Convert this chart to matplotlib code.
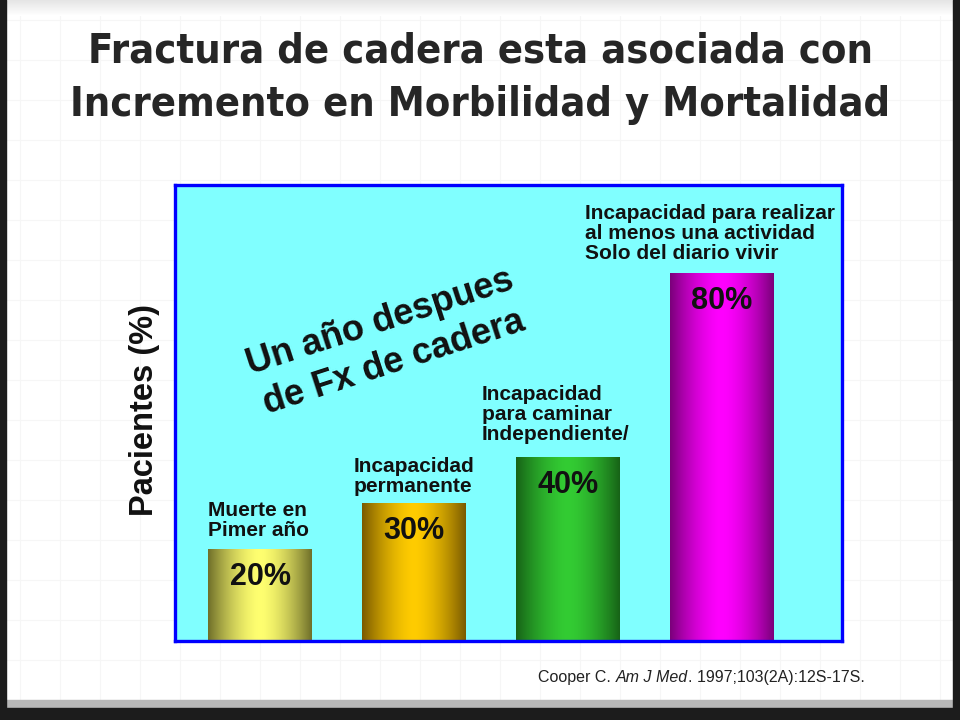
import numpy as np
import matplotlib
matplotlib.use("Agg")
import matplotlib.pyplot as plt
from matplotlib.colors import to_rgb

# --------------------------------------------------
# Data
# --------------------------------------------------
values = [20, 30, 40, 80]
value_labels = ["20%", "30%", "40%", "80%"]
bar_texts = [
    "Muerte en\nPimer año",
    "Incapacidad\npermanente",
    "Incapacidad\npara caminar\nIndependiente/",
    "Incapacidad para realizar\nal menos una actividad\nSolo del diario vivir",
]
edge_colors = ["#6f6f2a", "#7a5a00", "#176317", "#7a007a"]
center_colors = ["#ffff70", "#ffcc00", "#33cc33", "#ff00ff"]

title = "Fractura de cadera esta asociada con\nIncremento en Morbilidad y Mortalidad"
ylabel = "Pacientes (%)"
note = "Un año despues\nde Fx de cadera"

# label offsets in pixels from the bar's top-left corner
text_dx = [0, -8, -34, -85]
text_dy = [9, 7, 13, 10]

FONT = "Liberation Sans"

# --------------------------------------------------
# Figure / slide background
# --------------------------------------------------
fig = plt.figure(figsize=(9.6, 7.2), dpi=100)
fig.patch.set_facecolor("white")

bg = fig.add_axes([0, 0, 1, 1], zorder=-10)
bg.axis("off")
for gx in np.arange(20, 960, 40):
    bg.axvline(gx, color="#f6f6f6", lw=0.8, zorder=0)
for gy in np.arange(20, 720, 40):
    bg.axhline(gy, color="#f6f6f6", lw=0.8, zorder=0)
# top shading
top = np.linspace(0.9, 1.0, 16).reshape(-1, 1)
bg.imshow(np.dstack([top, top, top]), extent=(0, 960, 16, 0), aspect="auto", zorder=1)
# dark frame
bg.fill_between([0, 960], 700, 708, color="#b8b8b8", zorder=5)
bg.fill_between([0, 960], 708, 720, color="#1c1c1c", zorder=6)
bg.fill_between([0, 6], 0, 720, color="#1c1c1c", zorder=6)
bg.fill_between([953, 960], 0, 720, color="#1c1c1c", zorder=6)
bg.set_xlim(0, 960)
bg.set_ylim(720, 0)

fig.text(0.5, 1 - 78 / 720, title, ha="center", va="center", fontsize=29.8,
         fontweight="bold", family="DejaVu Sans", fontstretch="condensed",
         color="#262626", linespacing=1.45)

# --------------------------------------------------
# Chart
# --------------------------------------------------
ax = fig.add_axes([175 / 960, 79 / 720, 667 / 960, 456 / 720])
ax.set_facecolor("#80ffff")
for s in ax.spines.values():
    s.set_color("#0000ff")
    s.set_linewidth(2.4)
ax.set_xticks([])
ax.set_yticks([])

x = np.arange(len(values))
bars = ax.bar(x, values, width=0.675, color="none", edgecolor="none")

for i, b in enumerate(bars):
    e = np.array(to_rgb(edge_colors[i]))
    c = np.array(to_rgb(center_colors[i]))
    t = np.linspace(0, 1, 200)
    w = 1 - np.abs(2 * t - 1) ** 1.6
    grad = e[None, :] + (c - e)[None, :] * w[:, None]
    im = ax.imshow(grad[None, :, :],
                   extent=(b.get_x(), b.get_x() + b.get_width(), 0, b.get_height()),
                   aspect="auto", zorder=2)
    im.set_clip_path(b)

ax.set_xlim(-0.552, 3.779)
ax.set_ylim(0, 99)

for i, b in enumerate(bars):
    ax.annotate(value_labels[i], xy=(b.get_x() + b.get_width() / 2, b.get_height()),
                xytext=(0, -13), textcoords="offset pixels", ha="center", va="top",
                fontsize=22, fontweight="bold", family=FONT, color="#111111", zorder=3)
    ax.annotate(bar_texts[i], xy=(b.get_x(), b.get_height()),
                xytext=(text_dx[i], text_dy[i]), textcoords="offset pixels",
                ha="left", va="bottom", fontsize=15, fontweight="bold", family=FONT,
                color="#111111", linespacing=1.05, annotation_clip=False, zorder=3)

ax.text(0.318, 0.655, note, transform=ax.transAxes, rotation=18,
        rotation_mode="anchor", ha="center", va="center", multialignment="center",
        fontsize=26, fontweight="bold", family=FONT, color="#111111", linespacing=1.3)

fig.text(145 / 960, 1 - 410 / 720, ylabel, rotation=90, ha="center", va="center",
         fontsize=23.5, fontweight="bold", family=FONT, color="#111111")

# --------------------------------------------------
# Citation (mixed italic)
# --------------------------------------------------
parts = [("Cooper C. ", "normal"), ("Am J Med", "italic"), (". 1997;103(2A):12S-17S.", "normal")]
renderer = fig.canvas.get_renderer()
cx = 538
for txt, style in parts:
    t = fig.text(cx / 960, 1 - 682 / 720, txt, ha="left", va="baseline",
                 fontsize=11.5, family=FONT, style=style, color="#222222")
    cx += t.get_window_extent(renderer).width

fig.savefig("out.png", dpi=100, facecolor=fig.get_facecolor())
